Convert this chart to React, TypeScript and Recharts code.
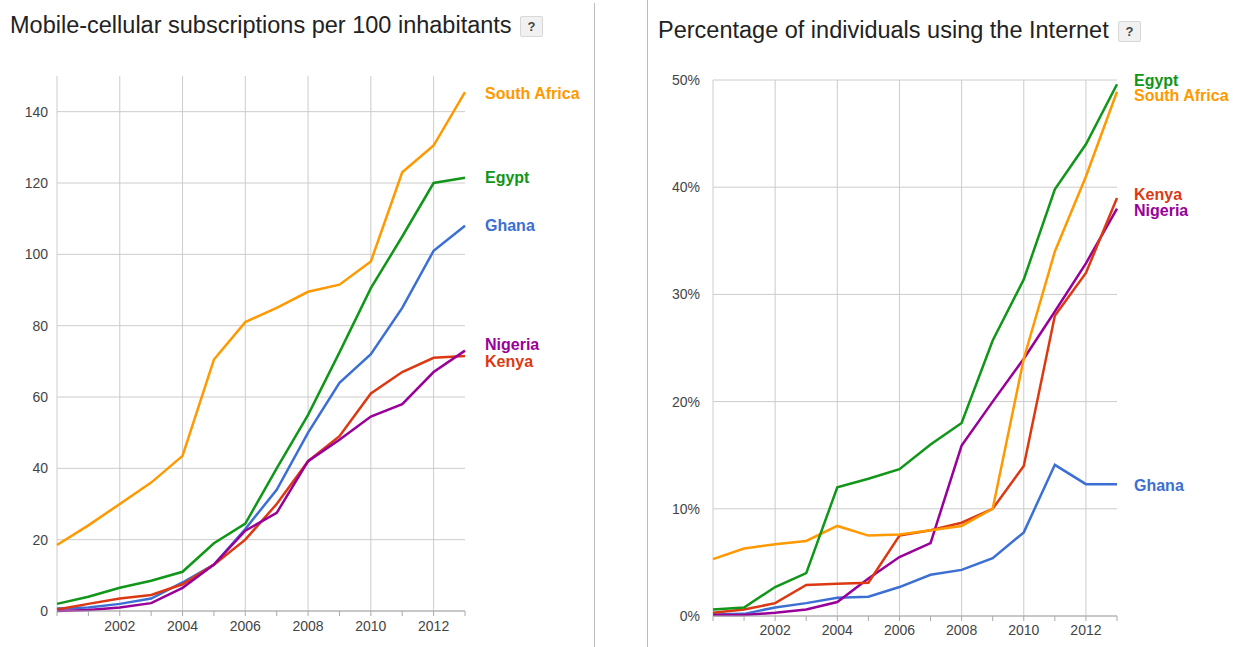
import { LineChart, Line, XAxis, YAxis, CartesianGrid } from 'recharts'

const years = [2000, 2001, 2002, 2003, 2004, 2005, 2006, 2007, 2008, 2009, 2010, 2011, 2012, 2013]
const gridYears = [2000, 2002, 2004, 2006, 2008, 2010, 2012]
const labelYears = [2002, 2004, 2006, 2008, 2010, 2012]

// mobile-cellular subscriptions per 100 inhabitants
const mobSouthAfrica = [18.5, 24, 30, 36, 43.5, 70.5, 81, 85, 89.5, 91.5, 98, 123, 130.5, 145.5]
const mobEgypt = [2, 4, 6.5, 8.5, 11, 19, 24.5, 40, 55, 72.5, 90.5, 105, 120, 121.5]
const mobGhana = [0.7, 1, 2, 3.5, 8, 13, 23, 34, 50, 64, 72, 85, 101, 108]
const mobKenya = [0.4, 2, 3.5, 4.5, 7.5, 13, 20, 30, 42, 49, 61, 67, 71, 71.5]
const mobNigeria = [0, 0.3, 1, 2.2, 6.5, 13, 22.5, 27.5, 42, 48, 54.5, 58, 67, 73]
const mobTicks = [0, 20, 40, 60, 80, 100, 120, 140]

// percentage of individuals using the internet
const netEgypt = [0.6, 0.8, 2.7, 4, 12, 12.8, 13.7, 16, 18, 25.7, 31.4, 39.8, 44, 49.6]
const netSouthAfrica = [5.3, 6.3, 6.7, 7, 8.4, 7.5, 7.6, 8, 8.4, 10, 24, 34, 41, 48.9]
const netKenya = [0.3, 0.6, 1.2, 2.9, 3, 3.1, 7.5, 8, 8.7, 10, 14, 28, 32, 39]
const netNigeria = [0.1, 0.1, 0.3, 0.6, 1.3, 3.5, 5.5, 6.8, 15.9, 20, 24, 28.4, 32.9, 38]
const netGhana = [0.15, 0.2, 0.8, 1.2, 1.7, 1.8, 2.7, 3.85, 4.3, 5.4, 7.8, 14.1, 12.3, 12.3]
const netTicks = [0, 10, 20, 30, 40, 50]

const colors: Record<string, string> = {
  'South Africa': '#ff9900',
  Egypt: '#109618',
  Ghana: '#3b6fd4',
  Kenya: '#dc3912',
  Nigeria: '#990099'
}

const mobData = years.map((year, i) => ({
  year,
  'South Africa': mobSouthAfrica[i],
  Egypt: mobEgypt[i],
  Ghana: mobGhana[i],
  Kenya: mobKenya[i],
  Nigeria: mobNigeria[i]
}))

const netData = years.map((year, i) => ({
  year,
  Egypt: netEgypt[i],
  'South Africa': netSouthAfrica[i],
  Kenya: netKenya[i],
  Nigeria: netNigeria[i],
  Ghana: netGhana[i]
}))

const font = 'Arial, "Liberation Sans", sans-serif'

const endLabel = (name: string, dx: number, dy: number) => (props: any) => {
  const { x, y, index } = props
  if (index !== years.length - 1) return null
  return (
    <text
      key={name}
      x={x + dx}
      y={y + dy}
      dy="0.35em"
      fill={colors[name]}
      fontFamily={font}
      fontSize={16}
      fontWeight="bold"
    >
      {name}
    </text>
  )
}

const HelpBox = ({ left, top }: { left: number; top: number }) => (
  <div
    style={{
      position: 'absolute',
      left,
      top,
      width: 21,
      height: 19,
      border: '1px solid #d8d8d8',
      borderRadius: 2,
      background: '#f1f1f1',
      fontFamily: font,
      fontSize: 13,
      fontWeight: 'bold',
      color: '#444',
      textAlign: 'center',
      lineHeight: '19px'
    }}
  >
    ?
  </div>
)

const tickStyle = { fill: '#444', fontSize: 14, fontFamily: font }

export default function App() {
  const mobOffsets: Record<string, number> = {
    'South Africa': 1,
    Egypt: 0,
    Ghana: 0,
    Nigeria: -6,
    Kenya: 5
  }
  const netOffsets: Record<string, number> = {
    Egypt: -4,
    'South Africa': 4,
    Kenya: -4,
    Nigeria: 2,
    Ghana: 1
  }

  return (
    <div style={{ position: 'fixed', left: 0, top: 0, width: 1239, height: 647, background: '#fff', overflow: 'hidden' }}>
      <div style={{ position: 'absolute', left: 594, top: 3, width: 1, height: 644, background: '#bbb' }} />
      <div style={{ position: 'absolute', left: 647, top: 0, width: 1, height: 647, background: '#bbb' }} />

      <div style={{ position: 'absolute', left: 10, top: 11, fontFamily: font, fontSize: 23.5, color: '#222', whiteSpace: 'nowrap', lineHeight: '28px' }}>
        Mobile-cellular subscriptions per 100 inhabitants
      </div>
      <HelpBox left={520} top={16} />

      <div style={{ position: 'absolute', left: 658, top: 16, fontFamily: font, fontSize: 23.5, color: '#222', whiteSpace: 'nowrap', lineHeight: '28px' }}>
        Percentage of individuals using the Internet
      </div>
      <HelpBox left={1118} top={21} />

      <div style={{ position: 'absolute', left: 0, top: 0 }}>
        <LineChart width={594} height={647} data={mobData} margin={{ top: 76, right: 129, bottom: 6, left: 7 }}>
          <CartesianGrid stroke="#cccccc" verticalValues={gridYears} horizontalValues={mobTicks} />
          <XAxis
            dataKey="year"
            type="number"
            domain={[2000, 2013]}
            ticks={years}
            interval={0}
            tickFormatter={(v: number) => (labelYears.includes(v) ? String(v) : '')}
            height={30}
            tickSize={5}
            tickMargin={5}
            stroke="#aaaaaa"
            tick={tickStyle}
          />
          <YAxis
            type="number"
            domain={[0, 150]}
            ticks={mobTicks}
            width={50}
            axisLine={false}
            tickLine={false}
            tickSize={0}
            tickMargin={9}
            tick={tickStyle}
          />
          {['South Africa', 'Egypt', 'Ghana', 'Kenya', 'Nigeria'].map((name) => (
            <Line
              key={name}
              dataKey={name}
              type="linear"
              stroke={colors[name]}
              strokeWidth={2.5}
              dot={false}
              activeDot={false}
              isAnimationActive={false}
              label={endLabel(name, 20, mobOffsets[name])}
            />
          ))}
        </LineChart>
      </div>

      <div style={{ position: 'absolute', left: 600, top: 0 }}>
        <LineChart width={639} height={647} data={netData} margin={{ top: 80, right: 122, bottom: 3, left: 53 }}>
          <CartesianGrid stroke="#cccccc" verticalValues={gridYears} horizontalValues={netTicks} />
          <XAxis
            dataKey="year"
            type="number"
            domain={[2000, 2013]}
            ticks={years}
            interval={0}
            tickFormatter={(v: number) => (labelYears.includes(v) ? String(v) : '')}
            height={28}
            tickSize={5}
            tickMargin={4}
            stroke="#aaaaaa"
            tick={tickStyle}
          />
          <YAxis
            type="number"
            domain={[0, 50]}
            ticks={netTicks}
            width={60}
            axisLine={false}
            tickLine={false}
            tickSize={0}
            tickMargin={13}
            tickFormatter={(v: number) => `${v}%`}
            tick={tickStyle}
          />
          {['Ghana', 'Nigeria', 'Kenya', 'South Africa', 'Egypt'].map((name) => (
            <Line
              key={name}
              dataKey={name}
              type="linear"
              stroke={colors[name]}
              strokeWidth={2.5}
              dot={false}
              activeDot={false}
              isAnimationActive={false}
              label={endLabel(name, 17, netOffsets[name])}
            />
          ))}
        </LineChart>
      </div>
    </div>
  )
}
